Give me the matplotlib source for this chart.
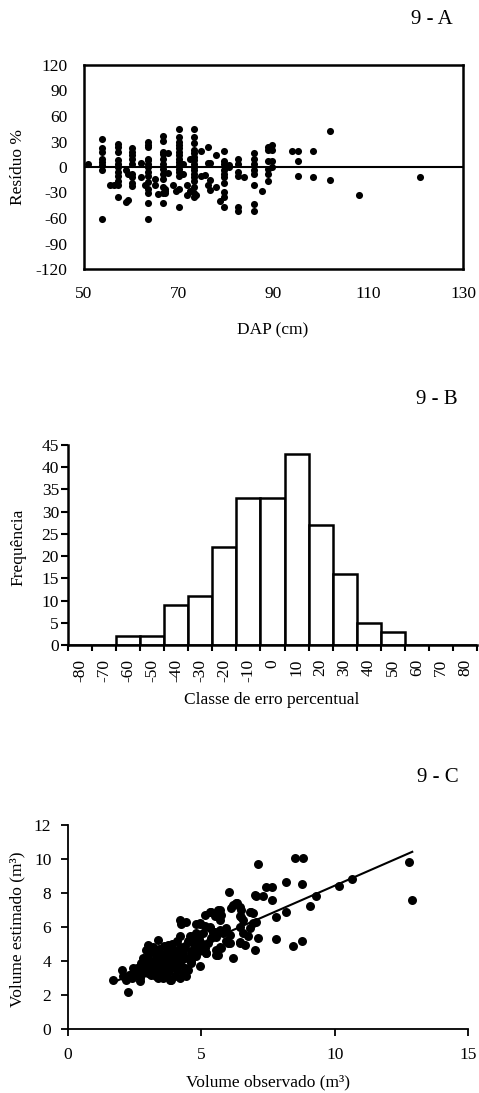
import numpy as np
import matplotlib
matplotlib.use("Agg")
import matplotlib.pyplot as plt
from matplotlib.ticker import FixedLocator

plt.rcParams['font.family'] = ['Liberation Serif', 'DejaVu Serif']
plt.rcParams['axes.unicode_minus'] = False

# 9 - A : residuos (%) por DAP, agrupados por coluna de DAP
dap_a = [50.9, 53.9, 55.5, 56.3, 57.2, 58.8, 59.3, 60.2, 62.0, 62.8,
         63.6, 65.0, 65.6, 66.6, 67.2, 67.8, 68.7, 69.4, 70.0, 70.8,
         71.7, 72.3, 73.2, 73.7, 74.6, 75.5, 76.1, 76.7, 77.9, 78.8,
         79.6, 80.7, 82.6, 83.8, 85.9, 87.5, 88.8, 89.6, 93.9, 95.1,
         98.4, 101.9, 108.1, 120.9]
res_a = [[3], [33, 22, 18, 10, 6, 2, -4, -61], [-21], [-21],
         [27, 24, 18, 8, 4, 0, -6, -10, -16, -21, -35], [-4, -41], [-39, -8],
         [22, 18, 14, 10, 4, -8, -12, -19, -22], [5, -12], [-21],
         [30, 26, 24, 10, 8, 4, 0, -6, -10, -18, -26, -30, -42, -61],
         [-14, -21], [-32],
         [37, 31, 18, 15, 10, 4, -2, -8, -14, -24, -30, -42],
         [-26, -28, -30], [17, -7], [-21], [-28],
         [45, 35, 30, 26, 22, 18, 14, 10, 6, 2, -2, -6, -10, -26, -47],
         [4, -8], [-21, -33], [9, -28],
         [45, 35, 28, 20, 16, 12, 8, 4, 0, -4, -8, -12, -16, -24, -30, -35],
         [-33], [19, -11], [-9], [24, 5, -21], [5, -15, -27], [14, -24], [-40],
         [19, 7, 3, -4, -8, -12, -19, -29, -35, -47], [2, 0],
         [9, 3, -6, -11, -47, -52], [-12],
         [17, 9, 4, -4, -8, -21, -44, -52], [-28],
         [24, 20, 7, -2, -8, -17], [26, 20, 7, 0], [19], [19, 7, -10],
         [19, -12], [42, -15], [-33], [-12]]

# 9 - B : frequencia por classe de erro
classes_b = [-80, -70, -60, -50, -40, -30, -20, -10, 0, 10, 20, 30, 40, 50, 60, 70, 80]
freq_b = [0, 0, 2, 2, 9, 11, 22, 33, 33, 43, 27, 16, 5, 3, 0, 0, 0]

# 9 - C : volume observado x estimado
obs_c = [1.69, 2.04, 2.06, 2.25, 2.19, 2.44, 2.69, 2.75, 2.94, 3.00, 3.38, 3.75,
         4.19, 4.25, 4.44, 4.81, 4.94, 5.13, 5.31, 5.63, 5.75, 6.05, 6.13, 6.31,
         6.44, 7.06, 7.00, 7.13, 7.31, 7.44, 7.66, 7.66, 8.19, 8.50, 8.81, 8.79,
         9.31, 9.06, 10.15, 10.66, 12.79, 12.91, 8.19, 7.81, 7.81, 8.44, 8.79, 7.00,
         7.13, 7.06, 6.94, 6.81, 6.75, 6.63, 6.44, 6.19, 6.00, 5.94, 6.06, 6.44,
         6.50, 6.56, 5.69, 5.56, 5.19, 5.44, 5.31, 5.63, 5.25, 4.94, 4.69, 4.81,
         4.56, 4.63, 4.38, 4.19, 3.81, 3.56, 3.31, 3.13,
         6.19, 6.34, 5.69, 5.63, 6.50, 5.38, 6.88, 6.81, 6.94, 6.46, 6.56, 5.50,
         5.69, 5.31, 5.50, 4.94, 5.13, 5.69, 5.81, 5.38, 5.56, 5.94, 6.06, 6.44,
         5.13, 5.00, 5.19, 5.56, 5.75, 5.63, 5.06, 2.81, 2.44, 3.37, 3.88, 4.44, 4.94,
         2.30, 2.40, 2.50, 2.60, 2.60, 2.70, 2.80, 2.80, 2.90, 2.90,
         3.00, 3.00, 3.00, 3.10, 3.10, 3.20, 3.20, 3.20, 3.30, 3.30, 3.30,
         3.40, 3.40, 3.40, 3.50, 3.50, 3.50, 3.60, 3.60, 3.60, 3.70, 3.70, 3.70,
         3.80, 3.80, 3.80, 3.90, 3.90, 3.90, 4.00, 4.00, 4.00, 4.10, 4.10, 4.10,
         4.20, 4.20, 4.20, 4.30, 4.30, 4.30, 4.40, 4.40, 4.50, 4.50, 4.50, 4.60,
         4.60, 4.70, 4.70, 4.80, 4.80, 4.90, 4.90]
est_c = [2.90, 3.48, 3.10, 2.20, 2.90, 3.30, 2.80, 3.90, 4.65, 4.95, 5.25, 4.95,
         6.40, 6.20, 6.30, 6.20, 6.20, 6.70, 6.90, 7.00, 6.70, 8.08, 7.10, 7.40,
         7.20, 7.80, 7.90, 9.70, 7.83, 8.38, 8.38, 7.60, 8.67, 10.05, 10.05, 8.54,
         7.85, 7.26, 8.40, 8.85, 9.85, 7.60, 6.91, 6.56, 5.29, 4.89, 5.15, 4.66,
         5.35, 6.32, 6.82, 6.90, 5.45, 4.95, 5.05, 4.17, 5.05, 5.95, 5.55, 6.00,
         6.60, 5.65, 4.85, 4.35, 4.45, 5.65, 6.00, 5.65, 5.05, 4.95, 5.05, 5.65,
         5.45, 3.90, 3.30, 3.00, 2.90, 3.00, 3.10, 3.15,
         7.30, 7.40, 7.00, 6.82, 7.00, 6.91, 6.91, 5.93, 6.23, 6.62, 6.42, 6.62,
         6.42, 5.93, 5.73, 6.23, 6.03, 5.83, 5.64, 5.35, 5.44, 5.15, 5.05, 5.09,
         4.76, 5.05, 4.47, 4.66, 4.76, 4.37, 5.64, 4.17, 3.58, 3.00, 2.90, 3.09, 3.68,
         3.20, 3.00, 3.40, 3.20, 3.60, 3.00, 3.30, 3.70, 3.50, 4.00,
         3.30, 3.80, 4.30, 4.60, 3.60, 4.00, 3.40, 4.80, 4.40, 3.80, 3.20,
         3.50, 4.10, 4.70, 3.30, 3.90, 4.40, 3.60, 4.20, 4.90, 3.10, 3.80, 4.50,
         4.10, 3.40, 4.80, 3.70, 4.40, 5.00, 3.10, 4.00, 4.60, 3.50, 4.30, 5.20,
         3.80, 4.80, 5.50, 3.30, 4.10, 4.50, 3.60, 4.90, 4.20, 5.20, 3.50, 4.60,
         4.00, 4.40, 5.50, 4.80, 4.30, 5.30, 4.60]
fit_slope = 0.685
fit_intercept = 1.58

W, H = 479, 1093
fig = plt.figure(figsize=(W / 100, H / 100), dpi=100)
tick_fs = 12.5
lab_fs = 12.5
tit_fs = 15


def box(l, t, r, b):
    return [l / W, 1 - b / H, (r - l) / W, (b - t) / H]


# ---- 9 - A
ax = fig.add_axes(box(84, 65, 463, 269))
xa = [d for d, rs in zip(dap_a, res_a) for _ in rs]
ya = [r for rs in res_a for r in rs]
ax.scatter(xa, ya, s=26, color='black', zorder=3, linewidths=0)
ax.axhline(0, color='black', lw=1.5, zorder=2)
ax.set_xlim(50, 130)
ax.set_ylim(-120, 120)
ax.set_xticks(range(50, 131, 20))
ax.set_yticks(range(-120, 121, 30))
ax.tick_params(length=0, labelsize=tick_fs, pad=12)
for sp in ax.spines.values():
    sp.set_linewidth(1.8)
fig.text(453 / W, 1 - 20 / H, '9 - A', ha='right', va='center', fontsize=tit_fs)
fig.text(18 / W, 1 - 167 / H, 'Resíduo %', rotation=90, ha='center', va='center', fontsize=lab_fs)
fig.text(273 / W, 1 - 330 / H, 'DAP (cm)', ha='center', va='center', fontsize=lab_fs)

# ---- 9 - B
ax = fig.add_axes(box(68, 445, 477, 645))
pos = np.arange(len(classes_b))
ax.bar(pos, freq_b, width=1.0, color='white', edgecolor='black', linewidth=1.8)
ax.set_xlim(-0.5, len(classes_b) - 0.5)
ax.set_ylim(0, 45)
ax.set_yticks(range(0, 46, 5))
ax.set_xticks(pos)
ax.set_xticklabels([str(c) for c in classes_b], rotation=90)
ax.xaxis.set_minor_locator(FixedLocator(np.arange(-0.5, len(classes_b), 1.0)))
ax.tick_params(axis='x', which='major', length=0, pad=10, labelsize=tick_fs)
ax.tick_params(axis='x', which='minor', length=4, width=1.5, direction='out')
ax.tick_params(axis='y', length=5, width=1.5, pad=1.5, labelsize=tick_fs)
ax.spines['top'].set_visible(False)
ax.spines['right'].set_visible(False)
for sp in ('left', 'bottom'):
    ax.spines[sp].set_linewidth(1.8)
fig.text(458 / W, 1 - 400 / H, '9 - B', ha='right', va='center', fontsize=tit_fs)
fig.text(18 / W, 1 - 547 / H, 'Frequência', rotation=90, ha='center', va='center', fontsize=lab_fs)
fig.text(272 / W, 1 - 700 / H, 'Classe de erro percentual', ha='center', va='center', fontsize=lab_fs)

# ---- 9 - C
ax = fig.add_axes(box(68, 825, 468, 1029))
ax.scatter(obs_c, est_c, s=42, color='black', zorder=3, linewidths=0)
xl = np.array([min(obs_c), max(obs_c)])
ax.plot(xl, fit_intercept + fit_slope * xl, color='black', lw=1.5, zorder=4)
ax.set_xlim(0, 15)
ax.set_ylim(0, 12)
ax.set_xticks(range(0, 16, 5))
ax.set_yticks(range(0, 13, 2))
ax.tick_params(axis='x', length=5, width=1.3, pad=8, labelsize=tick_fs)
ax.tick_params(axis='y', length=5, width=1.3, pad=7, labelsize=tick_fs)
ax.spines['top'].set_visible(False)
ax.spines['right'].set_visible(False)
for sp in ('left', 'bottom'):
    ax.spines[sp].set_linewidth(1.3)
fig.text(459 / W, 1 - 778 / H, '9 - C', ha='right', va='center', fontsize=tit_fs)
fig.text(17 / W, 1 - 929 / H, 'Volume estimado (m³)', rotation=90, ha='center', va='center', fontsize=lab_fs)
fig.text(268 / W, 1 - 1082 / H, 'Volume observado (m³)', ha='center', va='center', fontsize=lab_fs)

fig.savefig('out.png', dpi=100)
